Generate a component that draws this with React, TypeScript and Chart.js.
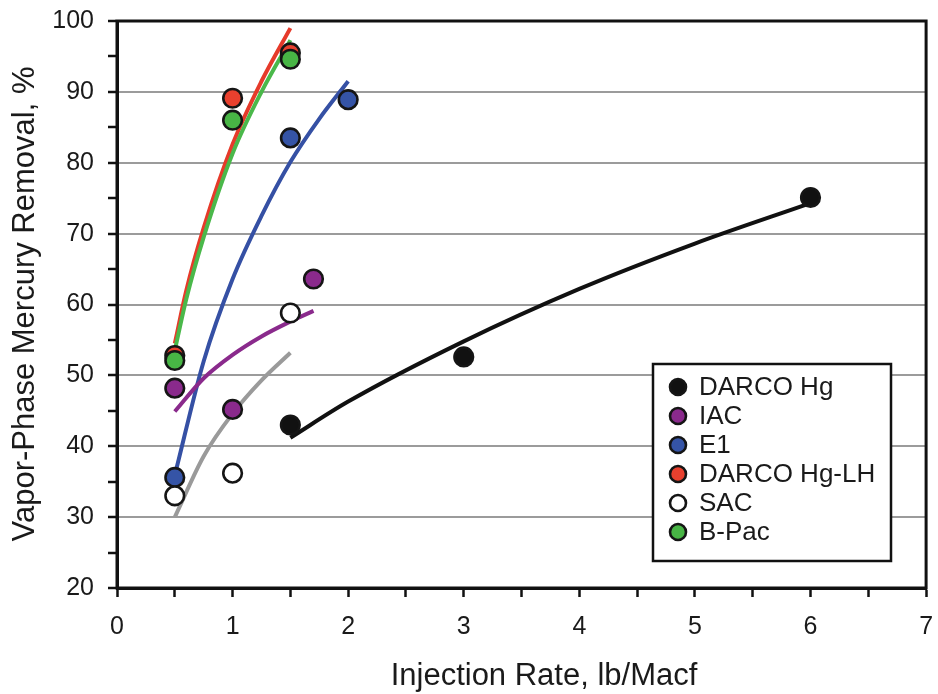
import { useEffect, useRef } from "react";
import { Chart, registerables } from "chart.js";

Chart.register(...registerables);

// ---- axis definitions ----
const X_MIN = 0;
const X_MAX = 7;
const Y_MIN = 20;
const Y_MAX = 100;
const xTickLabels = ["0", "1", "2", "3", "4", "5", "6", "7"];
const yTickLabels = ["20", "30", "40", "50", "60", "70", "80", "90", "100"];
const xTitle = "Injection Rate, lb/Macf";
const yTitle = "Vapor-Phase Mercury Removal, %";

// ---- series names (legend order) ----
const seriesNames = ["DARCO Hg", "IAC", "E1", "DARCO Hg-LH", "SAC", "B-Pac"];

// ---- measured points ----
const darcoX = [1.5, 3, 6];
const darcoY = [43.0, 52.6, 75.1];
const iacX = [0.5, 1, 1.7];
const iacY = [48.2, 45.2, 63.6];
const e1X = [0.5, 1.5, 2];
const e1Y = [35.6, 83.5, 88.9];
const lhX = [0.5, 1, 1.5];
const lhY = [52.8, 89.1, 95.5];
const sacX = [0.5, 1, 1.5];
const sacY = [33.0, 36.2, 58.8];
const bpacX = [0.5, 1, 1.5];
const bpacY = [52.1, 86.0, 94.6];

// ---- trend curves ----
const darcoCurveX = [1.5, 2, 3, 4, 5, 6];
const darcoCurveY = [41.2, 46.3, 54.8, 62.2, 68.6, 74.3];
const iacCurveX = [0.5, 0.75, 1, 1.25, 1.5, 1.7];
const iacCurveY = [44.9, 49.6, 52.9, 55.5, 57.6, 59.1];
const e1CurveX = [0.5, 0.75, 1, 1.25, 1.5, 1.75, 2];
const e1CurveY = [35.9, 52.0, 63.6, 72.5, 80.1, 86.2, 91.5];
const lhCurveX = [0.5, 0.6, 0.75, 1, 1.25, 1.5];
const lhCurveY = [54.5, 62.0, 70.8, 82.6, 91.5, 99.0];
const sacCurveX = [0.5, 0.75, 1, 1.25, 1.5];
const sacCurveY = [30.0, 38.6, 44.6, 49.3, 53.2];
const bpacCurveX = [0.5, 0.6, 0.75, 1, 1.25, 1.5];
const bpacCurveY = [53.5, 60.8, 69.5, 81.3, 90.0, 97.3];

// ---- styles ----
const pointFills = ["#111111", "#8a2a8c", "#3554a6", "#e8402e", "#ffffff", "#48b545"];
const curveColors = ["#111111", "#8a2a8c", "#3550a4", "#e63a2a", "#9a9a9a", "#4ab84a"];
const FONT = '"Liberation Sans", Arial, Helvetica, sans-serif';

const zip = (xs: number[], ys: number[]) => xs.map((x, i) => ({ x, y: ys[i] }));

export default function App() {
  const ref = useRef<HTMLCanvasElement | null>(null);

  useEffect(() => {
    if (!ref.current) return;

    const pointSets = [
      zip(darcoX, darcoY),
      zip(iacX, iacY),
      zip(e1X, e1Y),
      zip(lhX, lhY),
      zip(sacX, sacY),
      zip(bpacX, bpacY),
    ];
    const curveSets = [
      zip(darcoCurveX, darcoCurveY),
      zip(iacCurveX, iacCurveY),
      zip(e1CurveX, e1CurveY),
      zip(lhCurveX, lhCurveY),
      zip(sacCurveX, sacCurveY),
      zip(bpacCurveX, bpacCurveY),
    ];

    const pointOrder = [6, 5, 4, 3, 2, 1];
    const curveOrder = [20, 16, 17, 19, 15, 18];

    const datasets: any[] = [];
    seriesNames.forEach((name, i) => {
      datasets.push({
        label: name + " fit",
        data: curveSets[i],
        showLine: true,
        borderColor: curveColors[i],
        borderWidth: 4,
        pointRadius: 0,
        tension: 0.4,
        cubicInterpolationMode: "monotone",
        fill: false,
        order: curveOrder[i],
      });
    });
    seriesNames.forEach((name, i) => {
      datasets.push({
        label: name,
        data: pointSets[i],
        showLine: false,
        pointRadius: 9.3,
        pointBorderWidth: 2.6,
        pointBackgroundColor: pointFills[i],
        pointBorderColor: "#151515",
        backgroundColor: pointFills[i],
        borderColor: "#151515",
        order: pointOrder[i],
      });
    });

    const overlay = {
      id: "overlay",
      afterDraw(chart: any) {
        const { ctx, chartArea } = chart;
        ctx.save();
        ctx.strokeStyle = "#111";
        ctx.lineWidth = 3;
        ctx.strokeRect(chartArea.left, chartArea.top, chartArea.right - chartArea.left, chartArea.bottom - chartArea.top);

        ctx.fillStyle = "#1a1a1a";
        ctx.textAlign = "center";
        ctx.textBaseline = "middle";
        ctx.font = `31px ${FONT}`;
        ctx.fillText(xTitle, 544, 676);
        ctx.save();
        ctx.translate(25, 304);
        ctx.rotate(-Math.PI / 2);
        ctx.font = `31px ${FONT}`;
        ctx.fillText(yTitle, 0, 0);
        ctx.restore();

        const bx = 653, by = 364, bw = 238, bh = 197;
        ctx.fillStyle = "#ffffff";
        ctx.fillRect(bx, by, bw, bh);
        ctx.strokeStyle = "#111";
        ctx.lineWidth = 2.5;
        ctx.strokeRect(bx, by, bw, bh);
        ctx.font = `26px ${FONT}`;
        ctx.textAlign = "left";
        ctx.textBaseline = "middle";
        seriesNames.forEach((name, i) => {
          const cy = 387 + i * 29;
          ctx.beginPath();
          ctx.arc(678, cy, 8, 0, Math.PI * 2);
          ctx.fillStyle = pointFills[i];
          ctx.fill();
          ctx.lineWidth = 2.6;
          ctx.strokeStyle = "#151515";
          ctx.stroke();
          ctx.fillStyle = "#1a1a1a";
          ctx.fillText(name, 699, cy + 1);
        });
        ctx.restore();
      },
    };

    const zeroPad = (s: any) => {
      s.paddingTop = 0;
      s.paddingBottom = 0;
      s.paddingLeft = 0;
      s.paddingRight = 0;
    };

    const chart = new Chart(ref.current, {
      type: "scatter",
      data: { datasets },
      options: {
        responsive: false,
        animation: false,
        layout: { padding: { left: 0, top: 21, right: 11, bottom: 0 } },
        plugins: {
          legend: { display: false },
          tooltip: { enabled: false },
        },
        scales: {
          x: {
            type: "linear",
            min: X_MIN,
            max: X_MAX,
            afterFit: (s: any) => {
              s.height = 106;
              zeroPad(s);
            },
            ticks: {
              stepSize: 0.5,
              autoSkip: false,
              maxRotation: 0,
              padding: 15,
              color: "#1a1a1a",
              font: { family: FONT, size: 25 },
              callback: (v: any) => (Number.isInteger(v) ? xTickLabels[v] : ""),
            },
            grid: {
              drawOnChartArea: false,
              drawTicks: true,
              tickLength: 9,
              tickColor: "#111",
              tickWidth: 2.5,
            },
            border: { color: "#111", width: 3 },
          },
          y: {
            type: "linear",
            min: Y_MIN,
            max: Y_MAX,
            afterFit: (s: any) => {
              s.width = 117;
              zeroPad(s);
            },
            ticks: {
              stepSize: 5,
              autoSkip: false,
              padding: 14,
              color: "#1a1a1a",
              font: { family: FONT, size: 25 },
              callback: (v: any) => (v % 10 === 0 ? yTickLabels[(v - Y_MIN) / 10] : ""),
            },
            grid: {
              color: (c: any) => {
                const v = c.tick ? c.tick.value : 0;
                return v % 10 === 0 && v > Y_MIN && v < Y_MAX ? "#9b9b9b" : "rgba(0,0,0,0)";
              },
              lineWidth: 2,
              drawTicks: true,
              tickLength: 9,
              tickColor: "#111",
              tickWidth: 2.5,
            },
            border: { color: "#111", width: 3 },
          },
        },
      },
      plugins: [overlay],
    });

    return () => chart.destroy();
  }, []);

  return (
    <div style={{ position: "fixed", left: 0, top: 0, width: 938, height: 694, background: "#fff" }}>
      <canvas ref={ref} width={938} height={694} style={{ display: "block" }} />
    </div>
  );
}
